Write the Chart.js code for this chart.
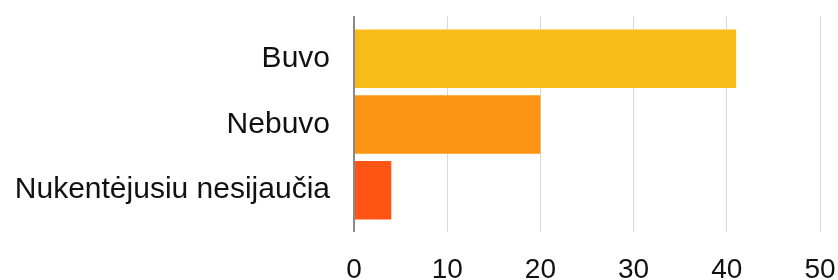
<!DOCTYPE html>
<html>
<head>
<meta charset="utf-8">
<script src="https://cdn.jsdelivr.net/npm/chart.js@4"></script>
<style>
  html, body { margin: 0; padding: 0; background: #ffffff; }
  #wrap { width: 838px; height: 280px; }
</style>
</head>
<body>
<div id="wrap"><canvas id="chart" width="838" height="280"></canvas></div>
<script>
// Datos del gráfico
const categories = ['Buvo', 'Nebuvo', 'Nukentėjusiu nesijaučia'];
const values = [41, 20, 4];
const barColors = ['#f8bc19', '#fc9413', '#fe5414'];
const axisMin = 0;
const axisMax = 50;
const axisStep = 10;

const FONT = "'Liberation Sans', Arial, Helvetica, sans-serif";
const GRID = '#d9d9d9';
const AXIS = '#8a8a8a';

// línea del cero más oscura y gruesa (hace de eje)
const gridColor = ctx => (ctx.tick && ctx.tick.value === 0 ? AXIS : GRID);
const gridWidth = ctx => (ctx.tick && ctx.tick.value === 0 ? 2 : 1);

new Chart(document.getElementById('chart'), {
  type: 'bar',
  data: {
    labels: categories,
    datasets: [{
      data: values,
      backgroundColor: barColors,
      borderWidth: 0,
      categoryPercentage: 1,
      barPercentage: 0.89
    }]
  },
  options: {
    indexAxis: 'y',
    responsive: false,
    animation: false,
    layout: { padding: { left: 0, right: 18, top: 16, bottom: 0 } },
    plugins: {
      legend: { display: false },
      tooltip: { enabled: false }
    },
    scales: {
      x: {
        position: 'bottom',
        min: axisMin,
        max: axisMax,
        afterFit: scale => {
          scale.height = 57;
          scale.paddingLeft = 0;
          scale.paddingRight = 0;
        },
        ticks: {
          stepSize: axisStep,
          color: '#111111',
          font: { family: FONT, size: 28 },
          padding: 21
        },
        grid: {
          color: gridColor,
          lineWidth: gridWidth,
          drawTicks: true,
          tickLength: 9
        },
        border: { display: false }
      },
      x2: {
        position: 'top',
        min: axisMin,
        max: axisMax,
        afterFit: scale => {
          scale.height = 10;
          scale.paddingLeft = 0;
          scale.paddingRight = 0;
        },
        ticks: { display: false, stepSize: axisStep },
        grid: {
          color: gridColor,
          lineWidth: gridWidth,
          drawOnChartArea: false,
          drawTicks: true,
          tickLength: 10
        },
        border: { display: false }
      },
      y: {
        offset: true,
        afterFit: scale => {
          scale.width = 354;
          scale.paddingTop = 0;
          scale.paddingBottom = 0;
        },
        ticks: {
          color: '#111111',
          font: { family: FONT, size: 30 },
          padding: 24
        },
        grid: { display: false, drawTicks: false },
        border: { display: false }
      }
    }
  }
});
</script>
</body>
</html>
